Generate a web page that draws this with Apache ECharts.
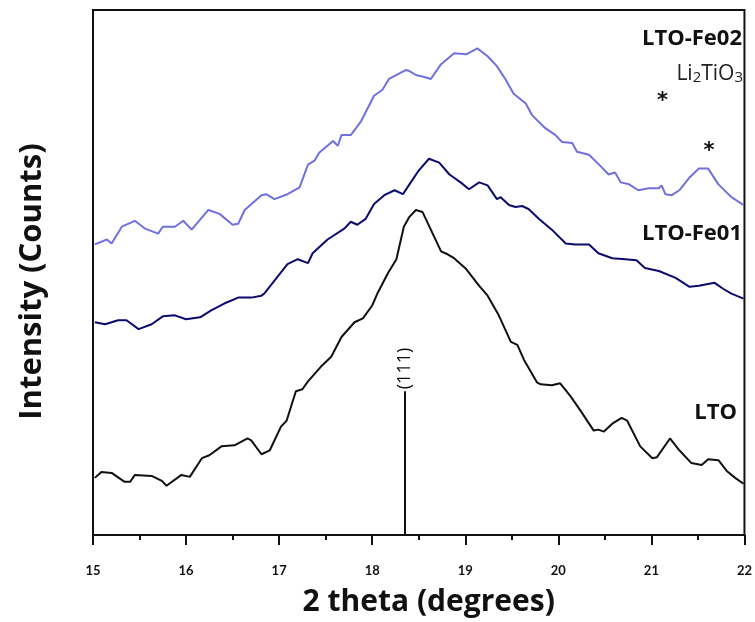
<!DOCTYPE html>
<html>
<head>
<meta charset="utf-8">
<script src="https://cdn.jsdelivr.net/npm/echarts@6/dist/echarts.min.js"></script>
<style>
  html, body { margin: 0; padding: 0; background: #fff; }
  #chart { width: 755px; height: 622px; }
</style>
</head>
<body>
<div id="chart"></div>
<script>
// XRD patterns, 2θ (degrees) vs. intensity (offset, arbitrary counts)
const xTicks = [15, 16, 17, 18, 19, 20, 21, 22];

const lto = [
  [15.02,58],[15.09,64],[15.20,63],[15.34,54],[15.40,54],[15.45,61],[15.63,60],[15.74,55],
  [15.79,50],[15.95,61],[16.04,59],[16.17,78],[16.25,81],[16.38,90],[16.52,91],[16.66,98],
  [16.70,96],[16.81,82],[16.90,86],[17.02,110],[17.08,116],[17.18,146],[17.25,148],[17.31,156],
  [17.45,171],[17.56,181],[17.67,201],[17.81,216],[17.90,220],[18.00,233],[18.06,246],[18.17,266],
  [18.26,280],[18.34,313],[18.40,323],[18.47,330],[18.54,328],[18.56,326],[18.65,306],[18.74,288],
  [18.81,285],[18.88,281],[19.01,270],[19.15,253],[19.24,243],[19.36,223],[19.49,196],[19.56,193],
  [19.63,178],[19.77,155],[19.81,153],[19.93,152],[20.02,154],[20.13,141],[20.24,126],[20.38,106],
  [20.43,107],[20.49,105],[20.58,113],[20.68,119],[20.74,116],[20.88,90],[21.01,78],[21.06,79],
  [21.20,98],[21.30,86],[21.43,73],[21.54,71],[21.61,77],[21.72,76],[21.81,65],[21.90,58],[21.99,52]
];

const ltoFe01 = [
  [15.02,216],[15.13,214],[15.27,218],[15.36,218],[15.49,209],[15.63,214],[15.75,222],[15.88,223],
  [16.00,219],[16.15,221],[16.27,228],[16.41,235],[16.56,241],[16.70,241],[16.81,243],[16.84,245],
  [16.99,263],[17.09,275],[17.20,280],[17.31,276],[17.36,286],[17.52,300],[17.70,311],[17.77,318],
  [17.84,315],[17.93,321],[18.02,336],[18.13,345],[18.24,350],[18.33,346],[18.40,356],[18.50,370],
  [18.61,382],[18.72,378],[18.83,366],[18.95,358],[19.04,351],[19.15,358],[19.24,355],[19.34,341],
  [19.38,343],[19.47,335],[19.54,333],[19.61,334],[19.68,331],[19.79,321],[19.93,310],[20.08,296],
  [20.18,295],[20.33,295],[20.43,286],[20.58,281],[20.72,280],[20.84,279],[20.93,271],[21.08,268],
  [21.26,261],[21.41,252],[21.51,253],[21.68,256],[21.77,250],[21.86,245],[21.99,240]
];

const ltoFe02 = [
  [15.02,295],[15.15,300],[15.20,296],[15.31,313],[15.45,319],[15.56,311],[15.70,306],[15.75,313],
  [15.88,313],[15.97,319],[16.06,310],[16.24,330],[16.36,326],[16.50,315],[16.56,316],[16.63,330],
  [16.81,345],[16.86,346],[16.95,341],[17.09,346],[17.22,353],[17.31,376],[17.38,380],[17.43,388],
  [17.58,400],[17.63,395],[17.67,406],[17.77,406],[17.88,420],[18.02,446],[18.11,452],[18.18,463],
  [18.36,472],[18.40,471],[18.47,467],[18.56,465],[18.63,463],[18.74,478],[18.88,489],[19.01,488],
  [19.13,494],[19.24,486],[19.34,476],[19.43,463],[19.52,448],[19.65,438],[19.72,426],[19.86,413],
  [19.97,406],[20.04,399],[20.15,398],[20.20,389],[20.33,386],[20.47,373],[20.54,366],[20.61,368],
  [20.67,358],[20.76,356],[20.86,350],[20.97,352],[21.08,352],[21.11,355],[21.15,346],[21.22,345],
  [21.30,350],[21.41,363],[21.51,372],[21.61,372],[21.72,356],[21.86,343],[21.99,335]
];

// Reference reflection (111) and Li2TiO3 impurity markers
const refPeak = { pos: 18.35, height: 146, label: '(111)' };
const impurityMarks = [[21.12, 440], [21.62, 389]];

const FONT = 'Lato, "Open Sans", sans-serif';
const TITLE_FONT = '"Open Sans", Lato, sans-serif';

const chart = echarts.init(document.getElementById('chart'), null, { renderer: 'canvas' });

chart.setOption({
  animation: false,
  backgroundColor: '#fff',
  grid: {
    left: 93, right: 9, top: 10, bottom: 79,
    show: true, borderColor: '#111', borderWidth: 2, backgroundColor: 'transparent'
  },
  xAxis: {
    type: 'value',
    min: 15, max: 22, interval: 1,
    axisLine: { show: true, lineStyle: { color: '#111', width: 2 } },
    axisTick: { show: true, length: 10, lineStyle: { color: '#111', width: 2 } },
    minorTick: { show: true, splitNumber: 2, length: 5, lineStyle: { color: '#111', width: 2 } },
    splitLine: { show: false },
    axisLabel: {
      margin: 29, color: '#111', fontSize: 13, fontWeight: 'bold', fontFamily: FONT,
      formatter: v => (xTicks.includes(v) ? String(v) : '')
    },
    name: '2 theta (degrees)',
    nameLocation: 'middle',
    nameGap: 52,
    nameTextStyle: {
      fontSize: 30, fontWeight: 'bold', color: '#111', fontFamily: TITLE_FONT, padding: [0, 0, 0, 20]
    }
  },
  yAxis: {
    type: 'value',
    min: 0, max: 533,
    axisLine: { show: true, lineStyle: { color: '#111', width: 2 } },
    axisTick: { show: false },
    axisLabel: { show: false },
    splitLine: { show: false },
    name: 'Intensity (Counts)',
    nameLocation: 'middle',
    nameGap: 45,
    nameTextStyle: {
      fontSize: 31, fontWeight: 'bold', color: '#111', fontFamily: TITLE_FONT, padding: [0, 18, 0, 0]
    }
  },
  series: [
    {
      name: 'LTO', type: 'line', data: lto, showSymbol: false, smooth: false,
      lineStyle: { color: '#111111', width: 2 },
      markLine: {
        silent: true, symbol: 'none',
        lineStyle: { color: '#111', width: 2, type: 'solid' },
        label: { show: false },
        data: [[{ coord: [refPeak.pos, 0] }, { coord: [refPeak.pos, refPeak.height] }]]
      }
    },
    {
      name: 'LTO-Fe01', type: 'line', data: ltoFe01, showSymbol: false,
      lineStyle: { color: '#0b0b6e', width: 2 }
    },
    {
      name: 'LTO-Fe02', type: 'line', data: ltoFe02, showSymbol: false,
      lineStyle: { color: '#7070de', width: 2 }
    },
    {
      name: 'Li2TiO3', type: 'scatter', data: impurityMarks, symbolSize: 0,
      itemStyle: { opacity: 1 },
      label: {
        show: true, position: 'inside', formatter: '*',
        color: '#111', fontSize: 21, fontWeight: 'bold', fontFamily: '"DejaVu Sans", sans-serif'
      }
    },
    {
      name: 'refLabel', type: 'scatter', data: [[refPeak.pos, refPeak.height]], symbolSize: 0,
      itemStyle: { opacity: 1 },
      label: {
        show: true, position: 'top', distance: 2, rotate: 90, align: 'left', verticalAlign: 'middle',
        formatter: refPeak.label, color: '#111', fontSize: 18, fontFamily: '"Open Sans", sans-serif'
      }
    }
  ],
  graphic: [
    { type: 'text', right: 13, top: 28, style: { text: 'LTO-Fe02', font: 'bold 22px ' + TITLE_FONT, fill: '#111' } },
    {
      type: 'text', right: 12, top: 64,
      style: {
        text: '{b|Li}{s|2}{b|TiO}{s|3}',
        rich: {
          b: { fontSize: 21, fontFamily: TITLE_FONT, fill: '#222' },
          s: { fontSize: 15, fontFamily: TITLE_FONT, fill: '#222', padding: [7, 0, 0, 0] }
        }
      }
    },
    { type: 'text', right: 13, top: 223, style: { text: 'LTO-Fe01', font: 'bold 22px ' + TITLE_FONT, fill: '#111' } },
    { type: 'text', right: 18, top: 402, style: { text: 'LTO', font: 'bold 22px ' + TITLE_FONT, fill: '#111' } }
  ]
});
</script>
</body>
</html>
